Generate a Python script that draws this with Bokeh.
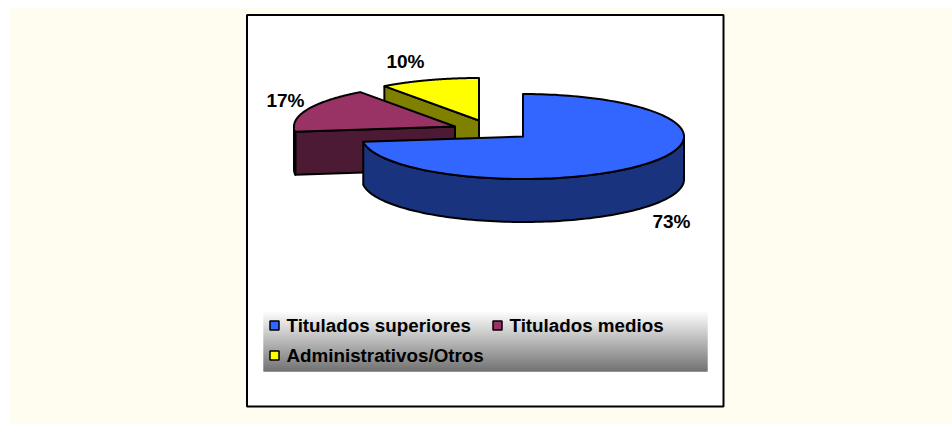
import numpy as np
from bokeh.plotting import figure
from bokeh.models import Range1d
from bokeh.core.properties import value
from bokeh.embed import file_html
from bokeh.resources import INLINE

categories = ["Titulados superiores", "Titulados medios", "Administrativos/Otros"]
shares = [73, 17, 10]
labels = ["73%", "17%", "10%"]
top_colors = ["#3366ff", "#993366", "#ffff00"]
side_colors = ["#19337f", "#4d1a33", "#808000"]

W, H = 952, 424
p = figure(width=W, height=H, x_range=Range1d(0, W), y_range=Range1d(H, 0),
           output_backend="svg", toolbar_location=None, min_border=0,
           background_fill_color="#ffffff", border_fill_color="#ffffff",
           outline_line_color=None)
p.axis.visible = False
p.grid.visible = False

# page panel and chart frame
p.quad(left=9, right=W, top=7, bottom=H, fill_color="#fffcf0", line_color=None)
p.quad(left=246.5, right=723, top=14.5, bottom=406, fill_color="#ffffff", line_color="#000000", line_width=2)

# pie geometry
RX, RY, DEPTH = 161, 42.5, 43
centres = [(522.5, 136), (454.5, 126), (478.5, 120)]
LW = 2

def ell(cx, cy, a):
    return cx + RX * np.sin(a), cy - RY * np.cos(a)

fracs = np.cumsum([0] + shares) / sum(shares) * 2 * np.pi
for i in [2, 1, 0]:
    a0, a1 = fracs[i], fracs[i + 1]
    cx, cy = centres[i]
    t = np.linspace(a0, a1, 160)
    ex, ey = ell(cx, cy, t)
    if i != 0:
        px, py = ell(cx, cy, a0)
        p.patch([cx, px, px, cx], [cy, py, py + DEPTH, cy + DEPTH], fill_color=side_colors[i],
                line_color="#000000", line_width=LW)
    wall = t[(t >= np.pi / 2) & (t <= 3 * np.pi / 2)]
    if len(wall):
        wx, wy = ell(cx, cy, wall)
        p.patch(np.r_[wx, wx[::-1]], np.r_[wy, wy[::-1] + DEPTH],
                fill_color=side_colors[i], line_color="#000000", line_width=LW, line_join="round")
    p.patch(np.r_[cx, ex], np.r_[cy, ey], fill_color=top_colors[i],
            line_color="#000000", line_width=LW, line_join="round")

font = value("Liberation Sans")
lab_x = [671, 285, 405]
lab_y = [221, 100, 61]
p.text(lab_x, lab_y, text=labels, text_font=font, text_font_size="19px", text_font_style="bold",
       text_align="center", text_baseline="middle", text_color="#000000")

# legend band with vertical gradient
band_top, band_bottom = 310, 371
rows = np.arange(band_top, band_bottom)
f = (rows - band_top) / (band_bottom - band_top - 1)
grey = (255 - f * (255 - 115)).astype(int)
p.quad(left=263, right=707, top=rows, bottom=np.minimum(rows + 2, band_bottom),
       fill_color=[f"#{g:02x}{g:02x}{g:02x}" for g in grey], line_color=None)

sw_x = [274, 497, 274]
sw_y = [325, 325, 355]
tx_x = [286, 509, 286]
p.scatter(sw_x, sw_y, marker="square", size=9, fill_color=top_colors, line_color="#000000", line_width=1.5)
p.text(tx_x, sw_y, text=categories, text_font=font, text_font_size="18.8px", text_font_style="bold",
       text_align="left", text_baseline="middle", text_color="#000000")

open("out.html", "w").write(file_html(p, INLINE))
